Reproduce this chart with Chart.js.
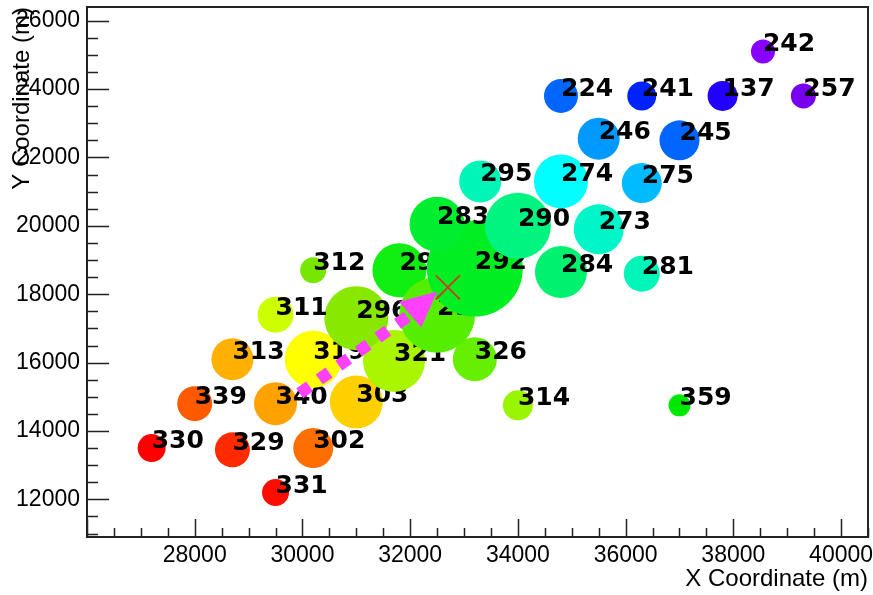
<!DOCTYPE html>
<html>
<head>
<meta charset="utf-8">
<script src="https://cdn.jsdelivr.net/npm/chart.js@4"></script>
<style>
  html, body { margin: 0; padding: 0; background: #fff; }
  #wrap { width: 873px; height: 595px; position: relative; }
</style>
</head>
<body>
<div id="wrap"><canvas id="chart"></canvas></div>
<script>
// Station data, in drawing order
const stationIds = ['330', '329', '331', '339', '302', '340', '303', '313', '319', '321', '312', '296', '311', '314', '326', '297', '293', '292', '283', '284', '290', '295', '274', '273', '281', '359', '275', '246', '224', '245', '241', '137', '257', '242'];
const xCoord = [27200, 28700, 29500, 28000, 30200, 29500, 31000, 28700, 30200, 31700, 30200, 31000, 29500, 34000, 33200, 31800, 32500, 33200, 32500, 34800, 34000, 33300, 34800, 35500, 36300, 37000, 36300, 35500, 34800, 37000, 36300, 37800, 39300, 38550];
const yCoord = [13500, 13450, 12200, 14800, 13500, 14800, 14850, 16100, 16100, 16050, 18700, 17300, 17400, 14750, 16100, 18700, 17400, 18750, 20050, 18650, 20000, 21300, 21300, 19900, 18600, 14750, 21250, 22550, 23800, 22500, 23800, 23800, 23800, 25100];
const bubbleSize = [14, 17.5, 13.5, 17.5, 20, 21.5, 26.5, 21, 28.5, 31, 13, 32, 18, 15, 22, 27, 38, 48, 27.5, 26, 33, 21, 27, 25, 18, 11, 20, 21, 17, 20, 14.5, 15, 12.5, 12];

// source position and direction arrow
const sourcePoint = [32700, 18200];
const arrowTail = [29950, 15100];
const arrowBase = [32000, 17400];
const arrowTip = [32500, 18080];

const xTickLabels = [28000, 30000, 32000, 34000, 36000, 38000, 40000];
const yTickLabels = [12000, 14000, 16000, 18000, 20000, 22000, 24000, 26000];

// rainbow palette colours per station
const bubbleColors = ['#ff0000', '#ff2a00', '#ff0c00', '#ff5a00', '#ff6e00', '#ffa200', '#ffd000', '#ffb000', '#ffff00', '#aaf500', '#77e600', '#88e800', '#ccff00', '#99f500', '#66f000', '#11ee11', '#55ee00', '#00ee22', '#00ee30', '#00f070', '#00f580', '#00f5b8', '#00ffff', '#00f5c8', '#00f5b8', '#00e800', '#00bbff', '#0099ff', '#0066ff', '#0066ff', '#0022ff', '#2200ff', '#7700ee', '#8800ff'];

const tickFont = { family: 'Liberation Sans', size: 23 };
const titleFont = { family: 'Liberation Sans', size: 24 };
const n = stationIds.length;

const datasets = stationIds.map((id, i) => ({
    type: 'bubble',
    label: id,
    data: [{ x: xCoord[i], y: yCoord[i], r: bubbleSize[i] }],
    backgroundColor: bubbleColors[i],
    borderWidth: 0,
    order: n - i + 10
}));

datasets.push({
    type: 'line',
    label: 'arrow',
    data: [{ x: arrowTail[0], y: arrowTail[1] }, { x: arrowBase[0], y: arrowBase[1] }],
    borderColor: '#ff40ff',
    borderWidth: 12,
    borderDash: [12, 12],
    borderCapStyle: 'butt',
    pointRadius: 0,
    order: 2
});

datasets.push({
    type: 'scatter',
    label: 'source',
    data: [{ x: sourcePoint[0], y: sourcePoint[1] }],
    pointStyle: 'crossRot',
    pointRadius: 17,
    borderColor: '#c8401e',
    borderWidth: 2,
    order: 1
});

// no extra room for overflowing tick labels, the frame is fixed
function noPad(scale) {
    scale.paddingLeft = 0;
    scale.paddingRight = 0;
    scale.paddingTop = 0;
    scale.paddingBottom = 0;
}

// labels, frame, inward ticks, arrow head
const rootStyle = {
    id: 'rootStyle',
    afterDatasetDraw(chart, args) {
        const ds = chart.data.datasets[args.index];
        const ctx = chart.ctx;
        if (ds.type === 'bubble') {
            const el = args.meta.data[0];
            ctx.save();
            ctx.font = 'bold 25px "DejaVu Sans"';
            ctx.fillStyle = '#000';
            ctx.textAlign = 'left';
            ctx.textBaseline = 'alphabetic';
            ctx.fillText(ds.label, el.x, el.y);
            ctx.restore();
        }
        if (ds.label === 'arrow') {
            const xs = chart.scales.x, ys = chart.scales.y;
            const tx = xs.getPixelForValue(arrowTip[0]), ty = ys.getPixelForValue(arrowTip[1]);
            const bx = xs.getPixelForValue(arrowBase[0]), by = ys.getPixelForValue(arrowBase[1]);
            const dx = tx - bx, dy = ty - by;
            const len = Math.hypot(dx, dy);
            const px = -dy / len * 17, py = dx / len * 17;
            ctx.save();
            ctx.fillStyle = '#ff40ff';
            ctx.beginPath();
            ctx.moveTo(tx, ty);
            ctx.lineTo(bx + px, by + py);
            ctx.lineTo(bx - px, by - py);
            ctx.closePath();
            ctx.fill();
            ctx.restore();
        }
    },
    afterDraw(chart) {
        const { ctx, chartArea: a } = chart;
        const xs = chart.scales.x, ys = chart.scales.y;
        ctx.save();
        ctx.strokeStyle = '#222';
        ctx.lineWidth = 1.5;
        ctx.beginPath();
        for (let v = 26000; v <= xs.max; v += 500) {
            const p = Math.round(xs.getPixelForValue(v)) + 0.5;
            const len = v % 2000 === 0 ? 18 : 9;
            ctx.moveTo(p, a.bottom);
            ctx.lineTo(p, a.bottom - len);
        }
        for (let v = 11000; v <= ys.max; v += 500) {
            const p = Math.round(ys.getPixelForValue(v)) + 0.5;
            const len = v % 2000 === 0 ? 22 : 11;
            ctx.moveTo(a.left, p);
            ctx.lineTo(a.left + len, p);
        }
        ctx.stroke();
        ctx.lineWidth = 2;
        ctx.strokeRect(a.left, a.top, a.right - a.left, a.bottom - a.top);
        ctx.restore();
    }
};

new Chart(document.getElementById('chart'), {
    data: { datasets },
    options: {
        responsive: true,
        maintainAspectRatio: false,
        animation: false,
        layout: { autoPadding: false, padding: { top: 7, right: 5, left: 0, bottom: 0 } },
        plugins: {
            legend: { display: false },
            tooltip: { enabled: false }
        },
        scales: {
            x: {
                type: 'linear',
                min: 26000,
                max: 40500,
                grid: { display: false, drawTicks: false },
                border: { display: false },
                afterBuildTicks: (scale) => { scale.ticks = xTickLabels.map(v => ({ value: v })); },
                afterFit: (scale) => { scale.height = 58; noPad(scale); },
                ticks: {
                    font: tickFont,
                    color: '#000',
                    padding: 5,
                    maxRotation: 0,
                    callback: (v) => String(v)
                },
                title: {
                    display: true,
                    text: 'X Coordinate (m)',
                    align: 'end',
                    color: '#000',
                    font: titleFont,
                    padding: { top: 0, bottom: 1 }
                }
            },
            y: {
                type: 'linear',
                min: 10900,
                max: 26400,
                grid: { display: false, drawTicks: false },
                border: { display: false },
                afterBuildTicks: (scale) => { scale.ticks = yTickLabels.map(v => ({ value: v })); },
                afterFit: (scale) => { scale.width = 87; noPad(scale); },
                ticks: {
                    font: tickFont,
                    color: '#000',
                    padding: 7,
                    callback: (v) => String(v)
                },
                title: {
                    display: true,
                    text: 'Y Coordinate (m)',
                    align: 'end',
                    color: '#000',
                    font: titleFont,
                    padding: { top: 8, bottom: 0 }
                }
            }
        }
    },
    plugins: [rootStyle]
});
</script>
</body>
</html>
